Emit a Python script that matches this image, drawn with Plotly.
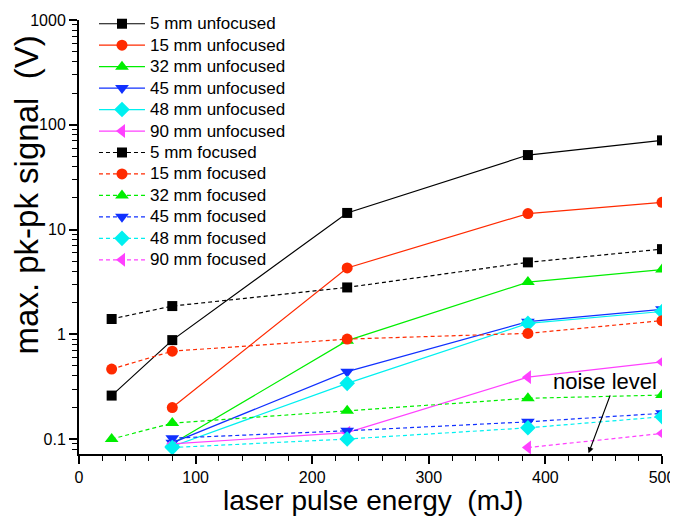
import numpy as np
import plotly.graph_objects as go

# ---- data ----
energy = [28, 80, 230, 385, 500]

unf_5 = [0.26, 0.88, 14.4, 51.4, 71]
unf_15 = [None, 0.20, 4.3, 14.2, 18.2]
unf_32 = [None, 0.090, 0.87, 3.15, 4.15]
unf_45 = [None, 0.092, 0.44, 1.32, 1.73]
unf_48 = [None, 0.085, 0.34, 1.27, 1.65]
unf_90 = [None, 0.090, 0.115, 0.39, 0.545]

foc_5 = [1.40, 1.86, 2.8, 4.86, 6.5]
foc_15 = [0.466, 0.69, 0.90, 1.02, 1.35]
foc_32 = [0.100, 0.142, 0.186, 0.245, 0.263]
foc_45 = [None, 0.102, 0.120, 0.146, 0.176]
foc_48 = [None, 0.083, 0.100, 0.128, 0.163]
foc_90 = [None, None, None, 0.083, 0.113]

names_unf = ["5 mm unfocused", "15 mm unfocused", "32 mm unfocused",
             "45 mm unfocused", "48 mm unfocused", "90 mm unfocused"]
names_foc = ["5 mm focused", "15 mm focused", "32 mm focused",
             "45 mm focused", "48 mm focused", "90 mm focused"]

y_ticks = [0.1, 1, 10, 100, 1000]
y_ticktext = ["0.1", "1", "10", "100", "1000"]

colors = ["#000000", "#FF2A00", "#00EE00", "#1030FF", "#00F0F0", "#FF40FF"]
symbols = ["square", "circle", "triangle-up", "triangle-down", "diamond", "triangle-left"]
sizes = [10, 11, 12, 12, 12, 12]

FONT = "Liberation Sans, Arial, sans-serif"


def legend_label(s):
    return '<span style="font-size:17px">' + s + '</span>'


fig = go.Figure()
for data, name, c, s, sz in zip([unf_5, unf_15, unf_32, unf_45, unf_48, unf_90],
                                names_unf, colors, symbols, sizes):
    fig.add_trace(go.Scatter(x=energy, y=data, name=legend_label(name), mode="lines+markers",
                             line=dict(color=c, width=1.2),
                             marker=dict(symbol=s, size=sz, color=c, line=dict(width=0))))
for data, name, c, s, sz in zip([foc_5, foc_15, foc_32, foc_45, foc_48, foc_90],
                                names_foc, colors, symbols, sizes):
    fig.add_trace(go.Scatter(x=energy, y=data, name=legend_label(name), mode="lines+markers",
                             line=dict(color=c, width=1.2, dash="4px,3px"),
                             marker=dict(symbol=s, size=sz, color=c, line=dict(width=0))))

minor_vals = []
for dec in [0.01, 0.1, 1, 10, 100]:
    for k in range(2, 10):
        v = k * dec
        if 0.07 <= v <= 1000:
            minor_vals.append(v)

fig.update_layout(
    width=670, height=521,
    margin=dict(l=71, r=16, t=12, b=75, autoexpand=False),
    paper_bgcolor="white", plot_bgcolor="white",
    font=dict(family=FONT, size=16, color="black"),
    showlegend=True,
    legend=dict(x=0.0257, xref="paper", y=1.0, yref="container",
                xanchor="left", yanchor="top", maxheight=480,
                bgcolor="rgba(0,0,0,0)", borderwidth=0, itemwidth=46,
                font=dict(size=14.2, family=FONT), tracegroupgap=0),
    xaxis=dict(range=[0, 500], tickvals=[0, 100, 200, 300, 400, 500],
               ticks="outside", ticklen=8, tickwidth=1.5, tickcolor="black",
               showline=True, linewidth=2, linecolor="black", showgrid=False,
               zeroline=False, mirror=False, automargin=False,
               minor=dict(dtick=20, ticks="outside", ticklen=5, tickwidth=1.2,
                          tickcolor="black", showgrid=False),
               tickfont=dict(size=16)),
    yaxis=dict(type="log", range=[np.log10(0.072), 3],
               tickvals=y_ticks, ticktext=y_ticktext,
               ticks="outside", ticklen=8, tickwidth=1.5, tickcolor="black",
               showline=True, linewidth=2, linecolor="black", showgrid=False,
               zeroline=False, mirror=False, automargin=False,
               minor=dict(tickvals=minor_vals, ticks="outside", ticklen=5,
                          tickwidth=1.2, tickcolor="black", showgrid=False),
               tickfont=dict(size=16)),
)

# axis titles
fig.add_annotation(text="laser pulse energy  (mJ)", xref="paper", yref="paper",
                   x=0.505, y=-0.106, xanchor="center", yanchor="middle",
                   showarrow=False, font=dict(size=28, family=FONT))
fig.add_annotation(text="max. pk-pk signal  (V)", xref="paper", yref="paper",
                   x=-0.09, y=0.597, xanchor="center", yanchor="middle",
                   textangle=-90, showarrow=False, font=dict(size=33, family=FONT))

# noise level annotation
fig.add_annotation(text="noise level", x=451, y=np.log10(0.352), xref="x", yref="y",
                   showarrow=False, font=dict(size=22, family=FONT))
fig.add_annotation(text="", x=437, y=np.log10(0.073), xref="x", yref="y",
                   ax=456, ay=np.log10(0.27), axref="x", ayref="y",
                   showarrow=True, arrowhead=2, arrowsize=1, arrowwidth=1.2,
                   arrowcolor="black")

fig.write_html("out.html")
